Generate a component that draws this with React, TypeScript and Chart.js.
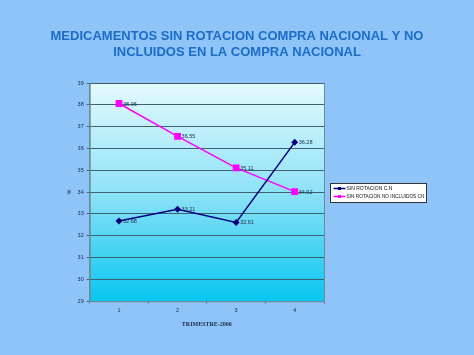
import React, { useEffect, useRef } from "react";
import { Chart, registerables } from "chart.js";

Chart.register(...registerables);

const categories = ["1", "2", "3", "4"];
const sinRotacionCN = [32.68, 33.21, 32.61, 36.28];
const sinRotacionNoIncluidos = [38.06, 36.55, 35.11, 34.02];
const seriesNames = ["SIN ROTACION C.N", "SIN ROTACION NO INCLUIDOS CN"];
const titleLines = ["MEDICAMENTOS SIN ROTACION COMPRA NACIONAL Y NO", "INCLUIDOS EN LA COMPRA NACIONAL"];
const xTitle = "TRIMESTRE-2006";
const yTitle = "%";

const SANS = "'Liberation Sans', Arial, sans-serif";

const plotBg = {
  id: "plotBg",
  beforeDraw(chart: any) {
    const { ctx, chartArea } = chart;
    if (!chartArea) return;
    const g = ctx.createLinearGradient(0, chartArea.top, 0, chartArea.bottom);
    g.addColorStop(0, "#E4FAFD");
    g.addColorStop(0.5, "#8EE2F7");
    g.addColorStop(1, "#08C6F0");
    ctx.save();
    ctx.fillStyle = g;
    ctx.fillRect(chartArea.left, chartArea.top, chartArea.right - chartArea.left, chartArea.bottom - chartArea.top);
    ctx.strokeStyle = "#6d8a99";
    ctx.lineWidth = 1;
    ctx.strokeRect(chartArea.left + 0.5, chartArea.top + 0.5, chartArea.right - chartArea.left, chartArea.bottom - chartArea.top);
    ctx.restore();
  },
};

const titleAndLegend = {
  id: "titleAndLegend",
  afterDraw(chart: any) {
    const { ctx, chartArea } = chart;
    ctx.save();
    // Title
    ctx.fillStyle = "#1B6CC8";
    ctx.font = `bold 13px ${SANS}`;
    ctx.textAlign = "center";
    ctx.textBaseline = "middle";
    ctx.fillText(titleLines[0], 237, 36, 378);
    ctx.fillText(titleLines[1], 237, 52);
    // Legend
    const bx = Math.round(chartArea.right + 6) + 0.5;
    const by = 183.5;
    const bw = 96;
    const bh = 19;
    ctx.fillStyle = "#ffffff";
    ctx.strokeStyle = "#333333";
    ctx.lineWidth = 1;
    ctx.fillRect(bx, by, bw, bh);
    ctx.strokeRect(bx, by, bw, bh);
    ctx.font = `5px ${SANS}`;
    ctx.textAlign = "left";
    chart.data.datasets.forEach((ds: any, i: number) => {
      const y = by + 5 + i * 8;
      ctx.strokeStyle = ds.borderColor;
      ctx.lineWidth = 1.5;
      ctx.beginPath();
      ctx.moveTo(bx + 3, y);
      ctx.lineTo(bx + 15, y);
      ctx.stroke();
      ctx.fillStyle = ds.backgroundColor;
      ctx.fillRect(bx + 7.5, y - 1.5, 3, 3);
      ctx.fillStyle = "#111111";
      ctx.fillText(ds.label, bx + 16, y + 0.5, bw - 18);
    });
    ctx.restore();
  },
};

const valueLabels = {
  id: "valueLabels",
  afterDatasetsDraw(chart: any) {
    const { ctx } = chart;
    ctx.save();
    ctx.font = `5.5px ${SANS}`;
    ctx.fillStyle = "#1a2a4a";
    ctx.textBaseline = "middle";
    ctx.textAlign = "left";
    chart.data.datasets.forEach((ds: any, i: number) => {
      const meta = chart.getDatasetMeta(i);
      meta.data.forEach((pt: any, j: number) => {
        ctx.fillText(Number(ds.data[j]).toFixed(2), pt.x + 4, pt.y + 0.5);
      });
    });
    ctx.restore();
  },
};

export default function App() {
  const ref = useRef<HTMLCanvasElement | null>(null);
  useEffect(() => {
    document.body.style.margin = "0";
    document.body.style.background = "#8EC4F8";
    const canvas = ref.current;
    if (!canvas) return;
    const chart = new Chart(canvas, {
      type: "line",
      data: {
        labels: categories,
        datasets: [
          {
            label: seriesNames[0],
            data: sinRotacionCN,
            borderColor: "#000080",
            backgroundColor: "#000080",
            borderWidth: 1.5,
            pointStyle: "rectRot",
            pointRadius: 3.5,
            pointBorderWidth: 0,
            tension: 0,
          },
          {
            label: seriesNames[1],
            data: sinRotacionNoIncluidos,
            borderColor: "#FF00FF",
            backgroundColor: "#FF00FF",
            borderWidth: 1.5,
            pointStyle: "rect",
            pointRadius: 4.8,
            pointBorderWidth: 0,
            tension: 0,
          },
        ],
      },
      options: {
        animation: false,
        responsive: false,
        maintainAspectRatio: false,
        layout: { padding: { left: 64, right: 150, top: 83, bottom: 23 } },
        plugins: {
          title: { display: false },
          legend: { display: false },
          tooltip: { enabled: false },
        },
        scales: {
          x: {
            offset: true,
            grid: { offset: true, drawOnChartArea: false, color: "#6d8a99", tickLength: 3 },
            border: { color: "#6d8a99" },
            ticks: { color: "#1a2a4a", font: { family: SANS, size: 5.5 }, padding: 3 },
            title: {
              display: true,
              text: xTitle,
              color: "#1a2a4a",
              font: { family: "'Liberation Serif', 'Times New Roman', serif", size: 6, weight: "bold" },
              padding: { top: 4 },
            },
          },
          y: {
            min: 29,
            max: 39,
            ticks: { stepSize: 1, color: "#1a2a4a", font: { family: SANS, size: 5.5 }, padding: 3 },
            grid: { color: "#3e6170", tickLength: 3, lineWidth: 1 },
            border: { color: "#6d8a99" },
            title: {
              display: true,
              text: yTitle,
              color: "#1a2a4a",
              font: { family: SANS, size: 5.5 },
              padding: 2,
            },
          },
        },
      },
      plugins: [plotBg, valueLabels, titleAndLegend],
    });
    return () => chart.destroy();
  }, []);
  return <canvas ref={ref} width={474} height={355} style={{ display: "block", width: 474, height: 355 }} />;
}
